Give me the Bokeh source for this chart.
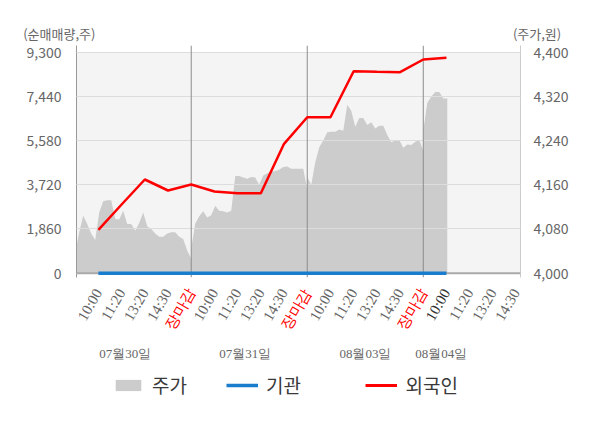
import numpy as np
from bokeh.plotting import figure
from bokeh.models import (Range1d, LinearAxis, FixedTicker, NumeralTickFormatter, Span,
                          BoxAnnotation, ColumnDataSource, LabelSet, Label, Legend, LegendItem)
from bokeh.embed import file_html
from bokeh.resources import INLINE

FONT = "Noto Sans CJK KR"

# ---------------- data ----------------
time_labels = ["10:00", "11:20", "13:20", "14:30", "장마감",
               "10:00", "11:20", "13:20", "14:30", "장마감",
               "10:00", "11:20", "13:20", "14:30", "장마감",
               "10:00", "11:20", "13:20", "14:30"]
day_labels = ["07월30일", "07월31일", "08월03일", "08월04일"]

# 주가 (price, won) - intraday samples per day
price_day1 = [4038, 4074, 4104, 4089, 4072, 4060, 4110, 4130, 4132, 4132,
              4098, 4097, 4113, 4089, 4089, 4077, 4091, 4110, 4085, 4080,
              4072, 4066, 4066, 4072, 4074, 4074, 4066, 4062, 4041, 4026]
price_day2 = [4045, 4090, 4103, 4112, 4101, 4105, 4122, 4113, 4112, 4110,
              4113, 4176, 4176, 4173, 4171, 4174, 4173, 4160, 4177, 4181,
              4183, 4185, 4187, 4192, 4193, 4189, 4189, 4189, 4189, 4151]
price_day3 = [4174, 4160, 4201, 4228, 4240, 4255, 4256, 4256, 4260, 4258,
              4305, 4294, 4265, 4281, 4281, 4268, 4273, 4262, 4267, 4267,
              4250, 4237, 4240, 4241, 4227, 4233, 4232, 4238, 4241, 4222]
price_day4 = [4258, 4308, 4320, 4328, 4328, 4316, 4316]

# 외국인 / 기관 net volume (shares) at each time label
foreign = [1826, 2891, 3943, 3480, 3733, 3438, 3366, 3366,
           5445, 6564, 6564, 8500, 8475, 8458, 8993, 9064]
institution = [0] * 16

vol_ticks = [0, 1860, 3720, 5580, 7440, 9300]
price_ticks = [4000, 4080, 4160, 4240, 4320, 4400]

# ---------------- derived positions ----------------
SLOTS_PER_DAY = 5
SAMPLES = 30
step = SLOTS_PER_DAY / (SAMPLES - 1)
xs, ps = [], []
for d, day in enumerate([price_day1, price_day2, price_day3, price_day4]):
    for i, v in enumerate(day):
        xs.append(d * SLOTS_PER_DAY + i * step)
        ps.append(v)

slot_x = list(range(1, len(time_labels) + 1))
line_x = slot_x[:len(foreign)]
day_bounds = [SLOTS_PER_DAY * (d + 1) for d in range(3)]
date_pos = [2.16, 7.33, 12.51, 15.78]

label_colors = []
for i, t in enumerate(time_labels):
    if t == "장마감":
        label_colors.append("#ff0000")
    elif i == len(foreign) - 1:
        label_colors.append("#333333")
    else:
        label_colors.append("#666666")

# ---------------- layout geometry ----------------
W = 600
HEAD_H, MAIN_H, FOOT_H = 42, 241, 145
TOP_B, BOT_B = 3, 6
BL, BR = 76, 80
X0, X1 = 0.056, 19.19
unit = (W - BL - BR) / (X1 - X0)

GRAY = "#666666"
AREA = "#cccccc"
BLUE = "#1a7ccc"
RED = "#ff0000"


def bare(h):
    f = figure(width=W, height=h, output_backend="svg", toolbar_location=None,
               x_range=Range1d(X0 - BL / unit, X1 + BR / unit), y_range=Range1d(0, h),
               x_axis_location=None, y_axis_location=None,
               min_border_left=0, min_border_right=0, min_border_top=0, min_border_bottom=0)
    f.outline_line_color = None
    f.grid.visible = False
    return f


# ---------------- header ----------------
head = bare(HEAD_H)
head.add_layout(Label(x=X0 - (BL - 22.7) / unit, y=HEAD_H - 33, text="(순매매량,주)", text_align="left",
                      text_baseline="middle", text_font=FONT, text_font_size="13px", text_color=GRAY))
head.add_layout(Label(x=X1 + (560.7 - (W - BR)) / unit, y=HEAD_H - 33, text="(주가,원)", text_align="right",
                      text_baseline="middle", text_font=FONT, text_font_size="13px", text_color=GRAY))

# ---------------- main chart ----------------
p = figure(width=W, height=MAIN_H, output_backend="svg", toolbar_location=None,
           x_range=Range1d(X0, X1), y_range=Range1d(-181, 9582),
           x_axis_location=None, min_border_left=BL, min_border_right=BR,
           min_border_top=TOP_B, min_border_bottom=BOT_B)
p.outline_line_color = None
p.extra_y_ranges = {"price": Range1d(3992.2, 4412.1)}

p.xgrid.visible = False
p.ygrid.ticker = FixedTicker(ticks=vol_ticks)
p.ygrid.grid_line_color = "#dddddd"
p.ygrid.level = "annotation"

p.add_layout(BoxAnnotation(bottom=0, top=9300, fill_color="#f4f4f4", fill_alpha=1,
                           line_color=None, level="image"))

ya = p.yaxis[0]
ya.ticker = FixedTicker(ticks=vol_ticks)
ya.formatter = NumeralTickFormatter(format="0,0")
ya.major_tick_line_color = None
ya.minor_tick_line_color = None
ya.axis_line_color = "#999999"
ya.major_label_text_font = FONT
ya.major_label_text_font_size = "14px"
ya.major_label_text_color = GRAY
ya.major_label_standoff = 9

ra = LinearAxis(y_range_name="price", ticker=FixedTicker(ticks=price_ticks),
                formatter=NumeralTickFormatter(format="0,0"))
ra.major_tick_line_color = None
ra.minor_tick_line_color = None
ra.axis_line_color = "#cccccc"
ra.major_label_text_font = FONT
ra.major_label_text_font_size = "14px"
ra.major_label_text_color = GRAY
ra.major_label_standoff = 7
p.add_layout(ra, "right")

p.varea(x=xs, y1=4000, y2=ps, y_range_name="price", fill_color=AREA)

for b in day_bounds:
    p.add_layout(Span(location=b, dimension="height", line_color="#8c8c8c", line_width=1))
p.add_layout(Span(location=0, dimension="width", line_color="#aaaaaa", line_width=2))

p.line(line_x, institution, line_color=BLUE, line_width=3.5, level="overlay")
p.line(line_x, foreign, line_color=RED, line_width=2.5, level="overlay")

# ---------------- footer: time labels, dates, legend ----------------
foot = bare(FOOT_H)
top_ref = HEAD_H + MAIN_H  # page y of the footer's top edge

src = ColumnDataSource(dict(x=slot_x, y=[FOOT_H - (289.5 - top_ref)] * len(slot_x), text=time_labels,
                            color=label_colors))
foot.add_layout(LabelSet(x="x", y="y", text="text", source=src, text_color="color",
                         angle=60, angle_units="deg", text_align="right", text_baseline="middle",
                         text_font=FONT, text_font_size="15px"))

dsrc = ColumnDataSource(dict(x=date_pos, y=[FOOT_H - (353 - top_ref)] * len(date_pos), text=day_labels))
foot.add_layout(LabelSet(x="x", y="y", text="text", source=dsrc, text_color=GRAY,
                         text_align="center", text_baseline="middle",
                         text_font=FONT, text_font_size="13px"))

# legend proxies: same series on a range that keeps them out of view
foot.extra_y_ranges = {"off": Range1d(1e7, 1e7 + 1)}
g_area = foot.varea(x=xs, y1=4000, y2=ps, fill_color=AREA, y_range_name="off")
g_inst = foot.line(x=line_x, y=institution, line_color=BLUE, line_width=3.5, y_range_name="off")
g_fore = foot.line(x=line_x, y=foreign, line_color=RED, line_width=3, y_range_name="off")

legend = Legend(items=[LegendItem(label="주가", renderers=[g_area]),
                       LegendItem(label="기관      ", renderers=[g_inst]),
                       LegendItem(label="외국인", renderers=[g_fore])],
                location=(112, FOOT_H - (398 - top_ref)), orientation="horizontal",
                border_line_color=None, background_fill_alpha=0, padding=0, margin=0,
                spacing=39, glyph_width=32, glyph_height=14, label_standoff=8,
                label_text_font=FONT, label_text_font_size="19px", label_text_color="#3a3a3a")
foot.add_layout(legend)

open("out.html", "w").write(file_html([head, p, foot], INLINE))
